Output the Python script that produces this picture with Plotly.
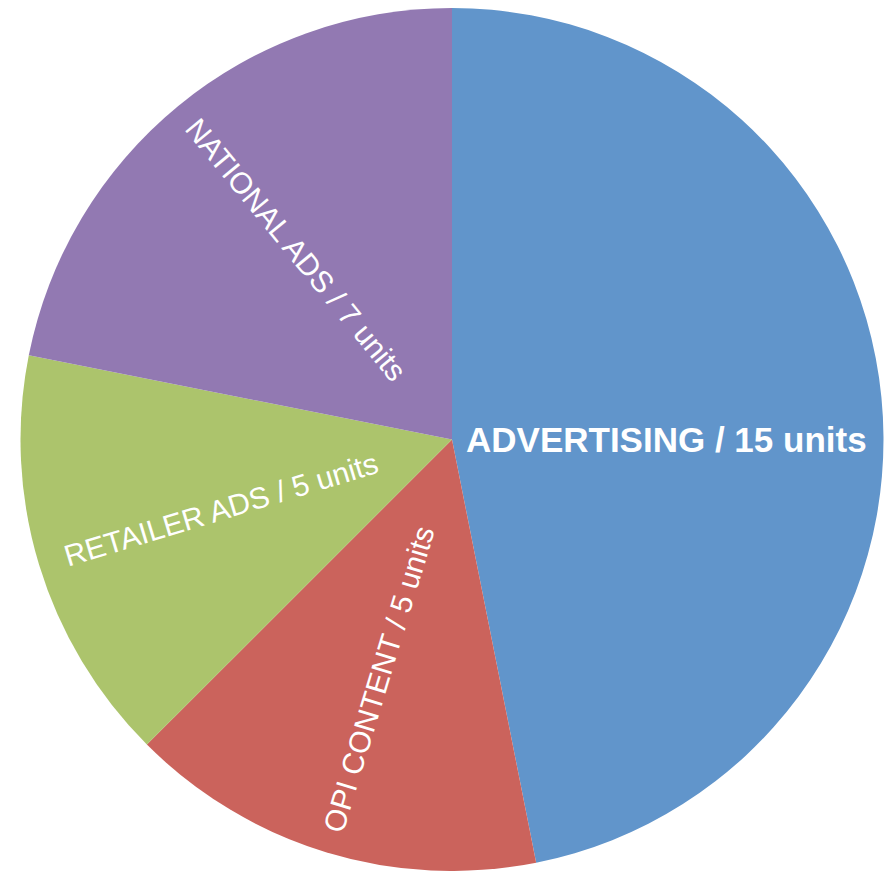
import math
import plotly.graph_objects as go

# Slice categories and their unit counts
categories = ["ADVERTISING", "OPI CONTENT", "RETAILER ADS", "NATIONAL ADS"]
units = [15, 5, 5, 7]
colors = ["#6195CB", "#CB635C", "#ACC46C", "#9279B2"]

W, H = 896, 871
margin = dict(l=20, r=12, t=8, b=0)

fig = go.Figure(
    go.Pie(
        labels=categories,
        values=units,
        textinfo="none",
        marker=dict(colors=colors, line=dict(width=0)),
        sort=False,
        direction="clockwise",
        rotation=0,
        showlegend=False,
        hoverinfo="label+value",
    )
)

# Slice labels placed at each slice's mid-angle; the lead slice reads
# horizontally, the others run along the radius
plot_w = W - margin["l"] - margin["r"]
plot_h = H - margin["t"] - margin["b"]
radius_px = min(plot_w, plot_h) / 2
label_r = [0.50, 0.58, 0.56, 0.57]
total = sum(units)
start = 0.0
annotations = []
for i, (cat, u) in enumerate(zip(categories, units)):
    span = 360.0 * u / total
    mid = start + span / 2
    start += span
    th = math.radians(mid)
    r = label_r[i] * radius_px
    x = 0.5 + r * math.sin(th) / plot_w
    y = 0.5 + r * math.cos(th) / plot_h
    ang = mid - 90
    while ang > 180:
        ang -= 360
    while ang <= -180:
        ang += 360
    if ang > 90:
        ang -= 180
    elif ang < -90:
        ang += 180
    bold = i == 0
    if bold:
        ang = 0
        y = 0.5
    txt = f"{cat} / {u} units"
    annotations.append(dict(
        x=x, y=y, xref="paper", yref="paper",
        text=f"<b>{txt}</b>" if bold else txt,
        showarrow=False, textangle=ang,
        xanchor="center", yanchor="middle",
        font=dict(family="Liberation Sans, Arial, sans-serif",
                  size=35 if bold else 30, color="white"),
    ))

fig.update_layout(
    width=W,
    height=H,
    margin=margin,
    paper_bgcolor="white",
    plot_bgcolor="white",
    annotations=annotations,
)

fig.write_html("out.html")
